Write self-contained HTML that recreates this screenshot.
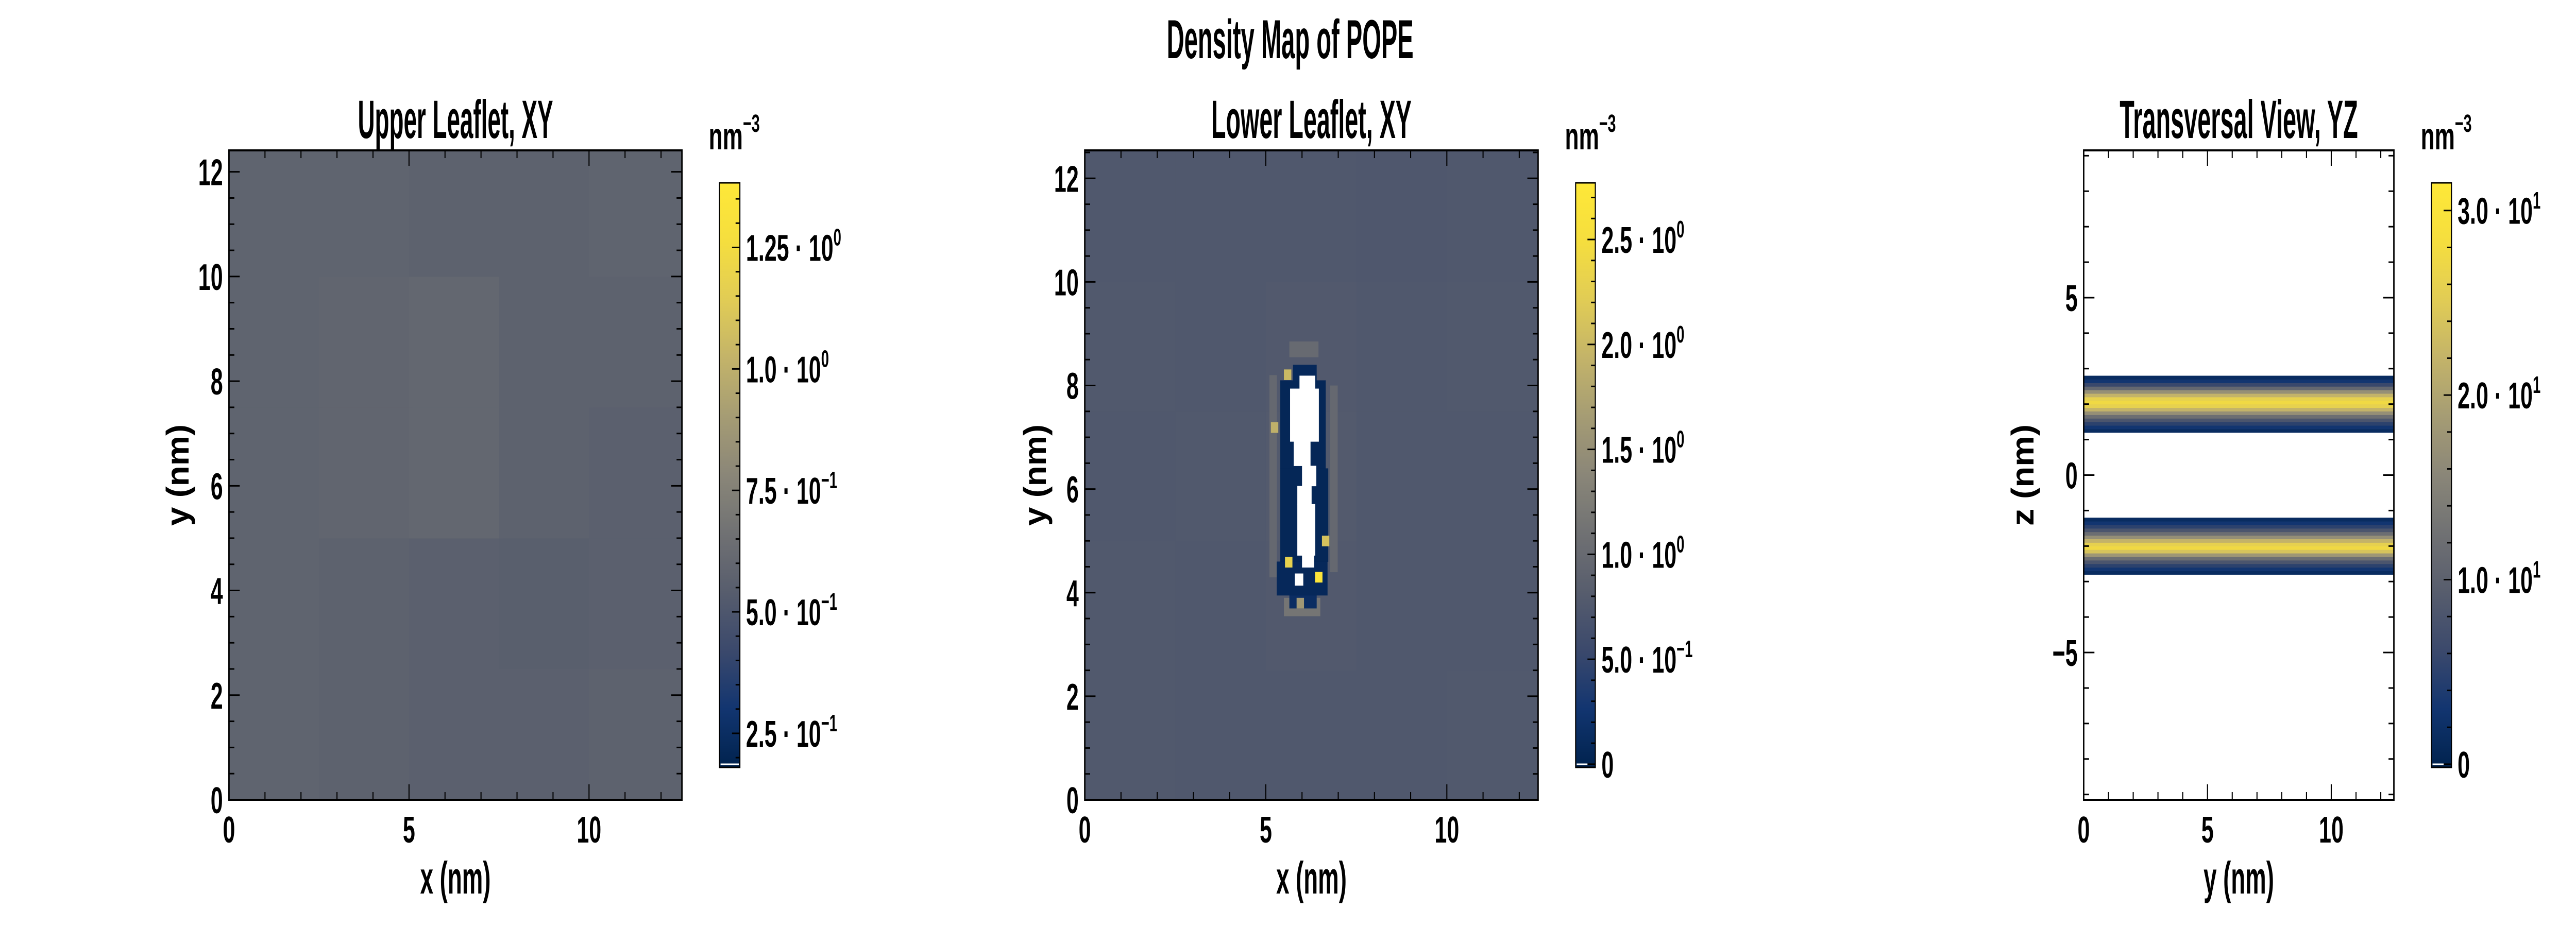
<!DOCTYPE html>
<html><head><meta charset="utf-8"><title>Density Map of POPE</title>
<style>
html,body{margin:0;padding:0;background:#fff;overflow:hidden;width:100%;height:100%;}
svg{display:block;width:100vw;height:100vh;}
text{font-family:"Liberation Sans Narrow","Liberation Sans",sans-serif;font-weight:bold;fill:#000;}
</style></head>
<body>
<svg id="fig" xmlns="http://www.w3.org/2000/svg" viewBox="0 0 7200 1800" preserveAspectRatio="none"></svg>
<script>
// ---------- data ----------
const upperGridY = [0, 2.5, 5, 7.5, 10];
const upperGridX = [0, 2.5, 5, 7.5, 10];
const upperDensity = [
  [0.58, 0.57, 0.56, 0.56, 0.57],
  [0.58, 0.57, 0.56, 0.55, 0.56],
  [0.58, 0.59, 0.60, 0.57, 0.56],
  [0.58, 0.59, 0.60, 0.57, 0.57],
  [0.58, 0.58, 0.57, 0.57, 0.58]
];
const lowerGridY = [0, 2.5, 5, 7.5, 10];
const lowerGridX = [0, 2.5, 5, 7.5, 10];
const lowerDensity = [
  [0.76, 0.75, 0.75, 0.75, 0.76],
  [0.76, 0.75, 0.77, 0.75, 0.75],
  [0.75, 0.76, 0.78, 0.75, 0.75],
  [0.76, 0.75, 0.77, 0.75, 0.76],
  [0.75, 0.75, 0.75, 0.74, 0.75]
];
const ringSpans = [
  [3.55, 3.90, 5.50, 6.50, 1.15],
  [8.55, 8.85, 5.65, 6.45, 1.00],
  [4.30, 8.20, 5.10, 5.30, 0.98],
  [4.40, 8.00, 6.78, 6.98, 0.98]
];
const rimSpans = [
  [3.70, 3.95, 5.65, 6.40, 0.15],
  [3.95, 4.60, 5.30, 6.70, 0.08],
  [4.60, 6.40, 5.40, 6.72, 0.06],
  [6.40, 8.10, 5.40, 6.65, 0.06],
  [8.10, 8.40, 5.75, 6.40, 0.08]
];
const holeSpans = [
  [7.94, 8.19, 5.93, 6.36],
  [6.92, 7.94, 5.67, 6.46],
  [6.45, 6.92, 5.77, 6.23],
  [6.06, 6.45, 6.00, 6.39],
  [5.71, 6.06, 5.87, 6.26],
  [4.72, 5.71, 5.87, 6.36],
  [4.49, 4.72, 6.00, 6.33],
  [4.14, 4.37, 5.80, 6.03]
];
const spotX = [5.60, 5.24, 6.65, 5.63, 6.46, 5.95];
const spotY = [8.21, 7.19, 5.00, 4.59, 4.30, 3.80];
const spotV = [2.00, 1.90, 2.10, 2.30, 2.70, 1.60];
const upperBandZ = [1.2,1.3,1.4,1.5,1.6,1.7,1.8,1.9,2.0,2.1,2.2,2.3,2.4,2.5,2.6,2.7];
const upperBandV = [1.5,3,5,8,12,17,22,26,27.5,26,22,17,11,6,3,1.5];
const lowerBandZ = [-2.8,-2.7,-2.6,-2.5,-2.4,-2.3,-2.2,-2.1,-2.0,-1.9,-1.8,-1.7,-1.6,-1.5,-1.4,-1.3];
const lowerBandV = [1.5,3,5,8,12,18,24,27.5,26,22,17,12,8,5,3,1.5];
const cb1Ticks = [0.25, 0.5, 0.75, 1.0, 1.25];
const cb1Labels = [["2.5","−1"],["5.0","−1"],["7.5","−1"],["1.0","0"],["1.25","0"]];
const cb2Ticks = [0, 0.5, 1.0, 1.5, 2.0, 2.5];
const cb2Labels = [["0",null],["5.0","−1"],["1.0","0"],["1.5","0"],["2.0","0"],["2.5","0"]];
const cb3Ticks = [0, 10, 20, 30];
const cb3Labels = [["0",null],["1.0","1"],["2.0","1"],["3.0","1"]];

// ---------- helpers ----------
const NS = "http://www.w3.org/2000/svg";
const svg = document.getElementById("fig");
function mk(tag, attrs, parent){ const e=document.createElementNS(NS,tag); for(const k in attrs) e.setAttribute(k,attrs[k]); (parent||svg).appendChild(e); return e; }
const stops = [[0,[0,34,78]],[0.1,[18,53,112]],[0.2,[59,73,108]],[0.3,[87,93,109]],[0.4,[112,113,115]],[0.5,[138,134,120]],[0.6,[165,156,116]],[0.7,[195,179,105]],[0.8,[225,204,85]],[0.9,[245,222,62]],[1,[254,232,56]]];
function cividis(t){ t=Math.max(0,Math.min(1,t)); for(let i=1;i<stops.length;i++){ if(t<=stops[i][0]){ const a=stops[i-1],b=stops[i],f=(t-a[0])/(b[0]-a[0]); const c=a[1].map((v,j)=>Math.round(v+(b[1][j]-v)*f)); return `rgb(${c[0]},${c[1]},${c[2]})`; } } return "rgb(254,232,56)"; }
function lin(d0,d1,r0,r1){ return v=>r0+(v-d0)/(d1-d0)*(r1-r0); }

const TOP=292, BOT=1553, CBT=355, CBB=1490;
const panels = [
 {id:"upper", x0:640, x1:1906, xd:[0,12.58], yd:[0,12.41], xMaj:[0,5,10], xMin:1, yMaj:[0,2,4,6,8,10,12], yMin:0.5, title:"Upper Leaflet, XY", tl:546, ylab:"y (nm)", xlab:"x (nm)", ylx:497,
  cb:{x0:2011,x1:2068,d:[0.18,1.383],ticks:cb1Ticks,labels:cb1Labels,minor:0.05}},
 {id:"lower", x0:3032, x1:4299, xd:[0,12.52], yd:[0,12.54], xMaj:[0,5,10], xMin:1, yMaj:[0,2,4,6,8,10,12], yMin:0.5, title:"Lower Leaflet, XY", tl:560, ylab:"y (nm)", xlab:"x (nm)", ylx:2893,
  cb:{x0:4404,x1:4459,d:[-0.015,2.77],ticks:cb2Ticks,labels:cb2Labels,minor:0.1}},
 {id:"transversal", x0:5824, x1:6691, xd:[0,12.53], yd:[-9.15,9.15], xMaj:[0,5,10], xMin:1, yMaj:[-5,0,5], yMin:1, title:"Transversal View, YZ", tl:666, ylab:"z (nm)", xlab:"y (nm)", ylx:5654,
  cb:{x0:6796,x1:6852,d:[-0.17,31.5],ticks:cb3Ticks,labels:cb3Labels,minor:2}}
];

const mt = mk("text",{x:3606,y:113,"text-anchor":"middle","font-size":107,textLength:690,lengthAdjust:"spacingAndGlyphs"});


mt.textContent="Density Map of POPE";

const defs = mk("defs",{});
const grad = mk("linearGradient",{id:"civ",x1:0,y1:1,x2:0,y2:0},defs);
for(let i=0;i<=20;i++){ mk("stop",{offset:(i/20),"stop-color":cividis(i/20)},grad); }

panels.forEach((p,pi)=>{
  const sx=lin(p.xd[0],p.xd[1],p.x0,p.x1), sy=lin(p.yd[0],p.yd[1],BOT,TOP);
  const cs=lin(p.cb.d[0],p.cb.d[1],0,1);
  const g=mk("g",{});
  
  
  const cp=mk("clipPath",{id:"clip"+pi},defs); mk("rect",{x:p.x0,y:TOP,width:p.x1-p.x0,height:BOT-TOP},cp);
  const hm=mk("g",{"clip-path":`url(#clip${pi})`},g);
  
  
  function cell(xa,xb,ya,yb,v,name){ const r=mk("rect",{x:sx(xa),y:sy(yb),width:sx(xb)-sx(xa)+0.5,height:sy(ya)-sy(yb)+0.5,fill:v===null?"#fff":cividis(cs(v))},hm);
    
     }
  if(p.id==="upper"){
    upperGridY.forEach((y,i)=>upperGridX.forEach((x,j)=>cell(x,x+2.6,y,y+2.6,upperDensity[i][j],'density-cell')));
  } else if(p.id==="lower"){
    lowerGridY.forEach((y,i)=>lowerGridX.forEach((x,j)=>cell(x,x+2.6,y,y+2.6,lowerDensity[i][j],'density-cell')));
    ringSpans.forEach(s=>cell(s[2],s[3],s[0],s[1],s[4],'ring-cell'));
    rimSpans.forEach(s=>cell(s[2],s[3],s[0],s[1],s[4],'rim-cell'));
    holeSpans.forEach(s=>cell(s[2],s[3],s[0],s[1],null,'empty-cell'));
    spotX.forEach((x,i)=>cell(x-0.1,x+0.1,spotY[i]-0.1,spotY[i]+0.1,spotV[i],'hot-spot'));
  } else {
    upperBandZ.forEach((z,i)=>cell(0,12.6,z,z+0.1,upperBandV[i],'upper-band-row'));
    lowerBandZ.forEach((z,i)=>cell(0,12.6,z,z+0.1,lowerBandV[i],'lower-band-row'));
  }
  const fr=mk("rect",{x:p.x0,y:TOP,width:p.x1-p.x0,height:BOT-TOP,fill:"none",stroke:"#000","stroke-width":4},g);
  
  
  const tg=mk("g",{stroke:"#000","stroke-width":3},g);
  
  
  for(let v=Math.ceil(p.xd[0]/p.xMin)*p.xMin; v<=p.xd[1]+1e-6; v+=p.xMin){ const maj=p.xMaj.some(m=>Math.abs(m-v)<1e-6); const L=maj?30:15; const X=sx(v);
    mk("line",{x1:X,x2:X,y1:BOT,y2:BOT-L},tg); mk("line",{x1:X,x2:X,y1:TOP,y2:TOP+L},tg); }
  for(let v=Math.ceil(p.yd[0]/p.yMin-1e-9)*p.yMin; v<=p.yd[1]+1e-6; v+=p.yMin){ const maj=p.yMaj.some(m=>Math.abs(m-v)<1e-6); const L=maj?30:15; const Y=sy(v);
    mk("line",{x1:p.x0,x2:p.x0+L,y1:Y,y2:Y},tg); mk("line",{x1:p.x1,x2:p.x1-L,y1:Y,y2:Y},tg); }
  p.xMaj.forEach(v=>{ const t=mk("text",{x:sx(v),y:1636,"text-anchor":"middle","font-size":72,transform:`translate(${sx(v)},0) scale(0.86,1) translate(${-sx(v)},0)`},g);
    
    
    t.textContent=String(v); });
  p.yMaj.forEach(v=>{ const X=p.x0-17; const t=mk("text",{x:X,y:sy(v)+26,"text-anchor":"end","font-size":72,transform:`translate(${X},0) scale(0.86,1) translate(${-X},0)`},g);
    
    
    t.textContent=(v<0?"−":"")+Math.abs(v); });
  const cx=(p.x0+p.x1)/2;
  const tt=mk("text",{x:cx,y:268,"text-anchor":"middle","font-size":105,textLength:p.tl,lengthAdjust:"spacingAndGlyphs"},g);
  
  
  tt.textContent=p.title;
  const xl=mk("text",{x:cx,y:1735,"text-anchor":"middle","font-size":88,textLength:197,lengthAdjust:"spacingAndGlyphs"},g);
  
  
  xl.textContent=p.xlab;
  const yl=mk("text",{x:0,y:0,"text-anchor":"middle","font-size":88,textLength:197,lengthAdjust:"spacingAndGlyphs",transform:`translate(${p.ylx+30},${(TOP+BOT)/2}) rotate(-90)`},g);
  
  
  yl.textContent=p.ylab;
  const c=p.cb; const cy=lin(c.d[0],c.d[1],CBB,CBT);
  const cg=mk("g",{},g);
  
  
  mk("rect",{x:c.x0,y:CBT,width:c.x1-c.x0,height:CBB-CBT,fill:"url(#civ)",stroke:"#000","stroke-width":3},cg);
  mk("line",{x1:c.x0+3,x2:c.x1-3,y1:CBB-6,y2:CBB-6,stroke:"#fff","stroke-width":3},cg);
  for(let v=Math.ceil(c.d[0]/c.minor-1e-9)*c.minor; v<=c.d[1]+1e-9; v+=c.minor){ const maj=c.ticks.some(m=>Math.abs(m-v)<1e-6); const Y=cy(v);
    mk("line",{x1:c.x1,x2:c.x1-(maj?22:12),y1:Y,y2:Y,stroke:"#000","stroke-width":3},cg); }
  c.ticks.forEach((v,i)=>{ const X=c.x1+17; const lab=c.labels[i];
    const t=mk("text",{x:X,y:cy(v)+26,"font-size":72,transform:`translate(${X},0) scale(0.86,1) translate(${-X},0)`},cg);
    
    
    if(lab[1]===null){ t.textContent=lab[0]; }
    else { t.appendChild(document.createTextNode(lab[0]+" · 10"));
      const s=mk("tspan",{dy:-30,"font-size":46},t); s.textContent=lab[1]; }
  });
  const u=mk("text",{x:c.x0-30,y:290,"font-size":74,transform:`translate(${c.x0-30},0) scale(0.86,1) translate(${-(c.x0-30)},0)`},cg);
  
  
  u.appendChild(document.createTextNode("nm"));
  const us=mk("tspan",{dy:-34,"font-size":48},u); us.textContent="−3";
});
</script>
</body></html>
